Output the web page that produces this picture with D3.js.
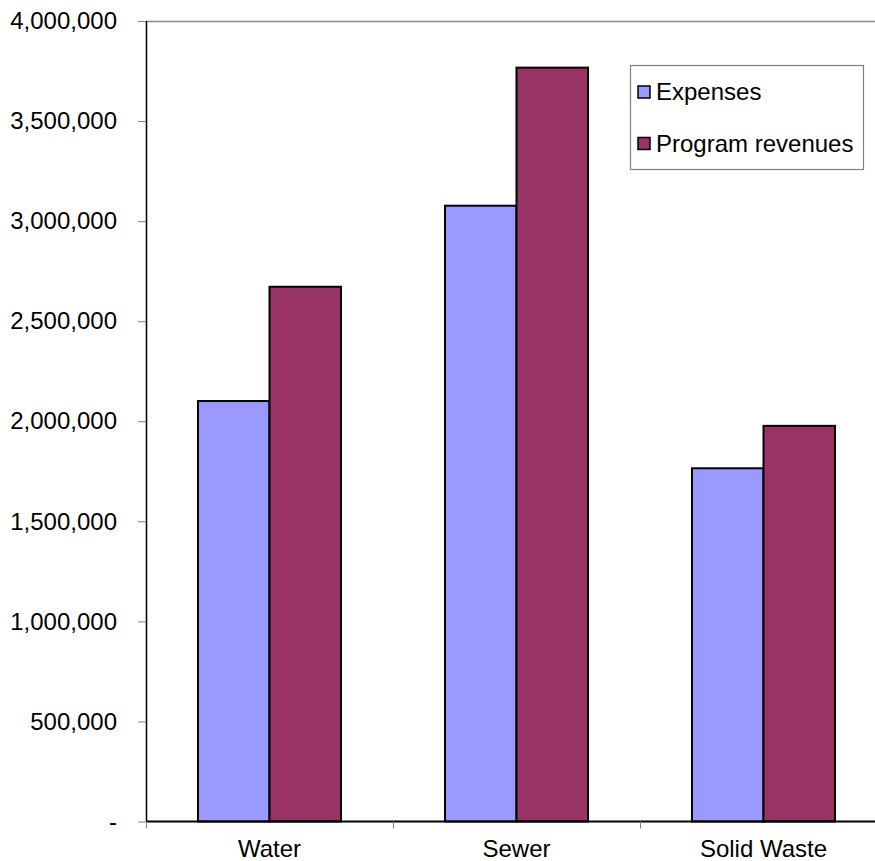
<!DOCTYPE html>
<html>
<head>
<meta charset="utf-8">
<script src="https://cdn.jsdelivr.net/npm/d3@7"></script>
<style>
  body { margin: 0; background: #fff; }
  svg { display: block; font-family: "Liberation Sans", Arial, sans-serif; }
</style>
</head>
<body>
<svg id="chart" width="875" height="861"></svg>
<script>
const categories = ["Water", "Sewer", "Solid Waste"]
const seriesNames = ["Expenses", "Program revenues"]
const expenses = [2101000, 3077000, 1765000]
const programRevenues = [2672000, 3767000, 1977000]
const yTicks = [0, 500000, 1000000, 1500000, 2000000, 2500000, 3000000, 3500000, 4000000]
const colors = ["#9999ff", "#993366"]

const svg = d3.select("#chart")
const margin = { top: 21, left: 146 }
const innerW = 741
const innerH = 800.5

const root = svg.append("g").attr("transform", `translate(${margin.left},${margin.top})`)

const x = d3.scaleBand().domain(categories).range([0, innerW]).paddingInner(0).paddingOuter(0)
const y = d3.scaleLinear().domain([0, 4000000]).range([innerH, 0])

// top border of the plot area
root.append("line")
  .attr("x1", 0).attr("x2", innerW)
  .attr("y1", 0.5).attr("y2", 0.5)
  .attr("stroke", "#8c8c8c").attr("stroke-width", 1.5)

// bars
const rows = categories.map((c, i) => ({ cat: c, vals: [expenses[i], programRevenues[i]] }))
const barPad = 52
const xs = d3.scaleBand().domain(seriesNames).range([barPad, x.bandwidth() - barPad])

const groups = root.selectAll(".grp").data(rows).join("g")
  .attr("transform", (d) => `translate(${x(d.cat)},0)`)

groups.selectAll("rect")
  .data((d) => d.vals.map((v, j) => ({ v, s: seriesNames[j], j })))
  .join("rect")
  .attr("x", (d) => xs(d.s))
  .attr("width", xs.bandwidth())
  .attr("y", (d) => y(d.v))
  .attr("height", (d) => innerH - y(d.v))
  .attr("fill", (d) => colors[d.j])
  .attr("stroke", "#000")
  .attr("stroke-width", 2)

// y axis
const yAxis = d3.axisLeft(y)
  .tickValues(yTicks)
  .tickSize(8)
  .tickPadding(21)
  .tickFormat((d) => (d === 0 ? "-" : d3.format(",")(d)))
const yg = root.append("g").call(yAxis)
yg.select(".domain").attr("stroke", "#000").attr("stroke-width", 1.5).attr("d", `M0.5,0V${innerH}`)
yg.selectAll(".tick line").attr("stroke", "#808080")
yg.selectAll(".tick text").attr("font-size", 24).attr("fill", "#000").attr("font-family", "Liberation Sans, Arial, sans-serif")

// x axis
const xg = root.append("g").attr("transform", `translate(0,${innerH})`)
xg.append("line").attr("x1", 0).attr("x2", innerW).attr("stroke", "#000").attr("stroke-width", 2)
xg.selectAll(".xt").data([0, 1, 2, 3]).join("line")
  .attr("x1", (i) => i * x.step() + 0.5).attr("x2", (i) => i * x.step() + 0.5)
  .attr("y1", 0).attr("y2", 7)
  .attr("stroke", "#808080")
xg.selectAll(".xl").data(categories).join("text")
  .attr("x", (d) => x(d) + x.bandwidth() / 2)
  .attr("y", 35)
  .attr("text-anchor", "middle")
  .attr("font-size", 24)
  .text((d) => d)

// legend
const lg = svg.append("g").attr("transform", "translate(630,65)")
lg.append("rect").attr("x", 0.5).attr("y", 0.5).attr("width", 233).attr("height", 104)
  .attr("fill", "#fff").attr("stroke", "#808080").attr("stroke-width", 1.2)
seriesNames.forEach((s, i) => {
  const row = lg.append("g").attr("transform", `translate(0,${27 + i * 51.5})`)
  row.append("rect").attr("x", 8).attr("y", -6).attr("width", 12).attr("height", 12)
    .attr("fill", colors[i]).attr("stroke", "#000").attr("stroke-width", 1.5)
  row.append("text").attr("x", 26).attr("y", 8).attr("font-size", 24).text(s)
})
</script>
</body>
</html>
